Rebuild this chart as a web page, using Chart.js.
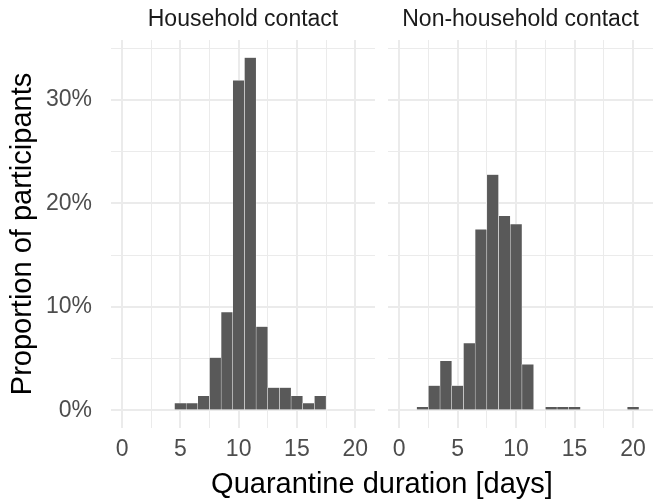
<!DOCTYPE html>
<html>
<head>
<meta charset="utf-8">
<script src="https://cdn.jsdelivr.net/npm/chart.js@4/dist/chart.umd.min.js"></script>
<style>
  html, body { margin: 0; padding: 0; background: #fff; }
  #wrap { position: relative; width: 653px; height: 501px; overflow: hidden; }
  #wrap canvas { position: absolute; top: 0; }
  #c-house { left: 0; }
  #c-other { left: 388px; }
  #x-title {
    position: absolute; left: 111px; width: 542px; top: 469px;
    text-align: center; font: 29px/29px "Liberation Sans", Arial, sans-serif; color: #000;
  }
</style>
</head>
<body>
<div id="wrap">
  <canvas id="c-house" width="375" height="501"></canvas>
  <canvas id="c-other" width="265" height="501"></canvas>
  <div id="x-title">Quarantine duration [days]</div>
</div>
<script>
// Household contacts — share of participants by quarantine length (days)
const householdDays = [5, 6, 7, 8, 9, 10, 11, 12, 13, 14, 15, 16, 17];
const householdPct  = [0.7, 0.7, 1.4, 5.1, 9.5, 31.9, 34.1, 8.1, 2.2, 2.2, 1.4, 0.7, 1.4];

// Non-household contacts
const otherDays = [2, 3, 4, 5, 6, 7, 8, 9, 10, 11, 13, 14, 15, 20];
const otherPct  = [0.35, 2.4, 4.8, 2.4, 6.5, 17.5, 22.8, 18.8, 18.0, 4.45, 0.35, 0.35, 0.35, 0.35];

// axis ticks (major ones get a label, the halves are minor grid lines)
const xTicks = [0, 2.5, 5, 7.5, 10, 12.5, 15, 17.5, 20];
const yTicks = [0, 5, 10, 15, 20, 25, 30, 35];

const FONT = '"Liberation Sans", Arial, sans-serif';
const GRID = '#EBEBEB';

function panelConfig(title, days, pct, withYAxis) {
  return {
    type: 'bar',
    data: {
      datasets: [{
        data: days.map((d, i) => ({ x: d, y: pct[i] })),
        backgroundColor: '#595959',
        borderColor: '#ffffff',
        borderWidth: 0.5,
        barPercentage: 1,
        categoryPercentage: 1,
      }],
    },
    options: {
      responsive: false,
      animation: false,
      layout: { padding: 0 },
      plugins: {
        legend: { display: false },
        tooltip: { enabled: false },
        title: {
          display: true, text: title, fullSize: false,
          color: '#1A1A1A', font: { family: FONT, size: 23, weight: 'normal' },
          padding: { top: 5.6, bottom: 6.8 },
        },
      },
      scales: {
        x: {
          type: 'linear', min: -0.95, max: 21.7, offset: false,
          afterBuildTicks: s => { s.ticks = xTicks.map(v => ({ value: v })); },
          afterFit: s => { s.height = 73; s.paddingLeft = 0; s.paddingRight = 0; },
          border: { display: false },
          grid: { color: GRID, offset: false, drawTicks: false, lineWidth: c => (c.tick && c.tick.value % 5 === 0 ? 2 : 1) },
          ticks: {
            padding: 8, color: '#4D4D4D', font: { family: FONT, size: 23 },
            maxRotation: 0, autoSkip: false,
            callback: v => (v % 5 === 0 ? String(v) : ''),
          },
        },
        y: {
          min: -1.7, max: 35.8,
          afterBuildTicks: s => { s.ticks = yTicks.map(v => ({ value: v })); },
          afterFit: s => { s.width = withYAxis ? 111 : 0; s.paddingTop = 0; s.paddingBottom = 0; },
          border: { display: false },
          grid: { color: GRID, drawTicks: false, lineWidth: c => (c.tick && c.tick.value % 10 === 0 ? 2 : 1) },
          ticks: {
            display: withYAxis, padding: 19, color: '#4D4D4D', font: { family: FONT, size: 23 },
            autoSkip: false,
            callback: v => (v % 10 === 0 ? v + '%' : ''),
          },
          title: {
            display: withYAxis, text: 'Proportion of participants',
            color: '#000', font: { family: FONT, size: 29 },
            padding: { top: 6, bottom: 0 },
          },
        },
      },
    },
  };
}

new Chart(document.getElementById('c-house'), panelConfig('Household contact', householdDays, householdPct, true));
new Chart(document.getElementById('c-other'), panelConfig('Non-household contact', otherDays, otherPct, false));
</script>
</body>
</html>
